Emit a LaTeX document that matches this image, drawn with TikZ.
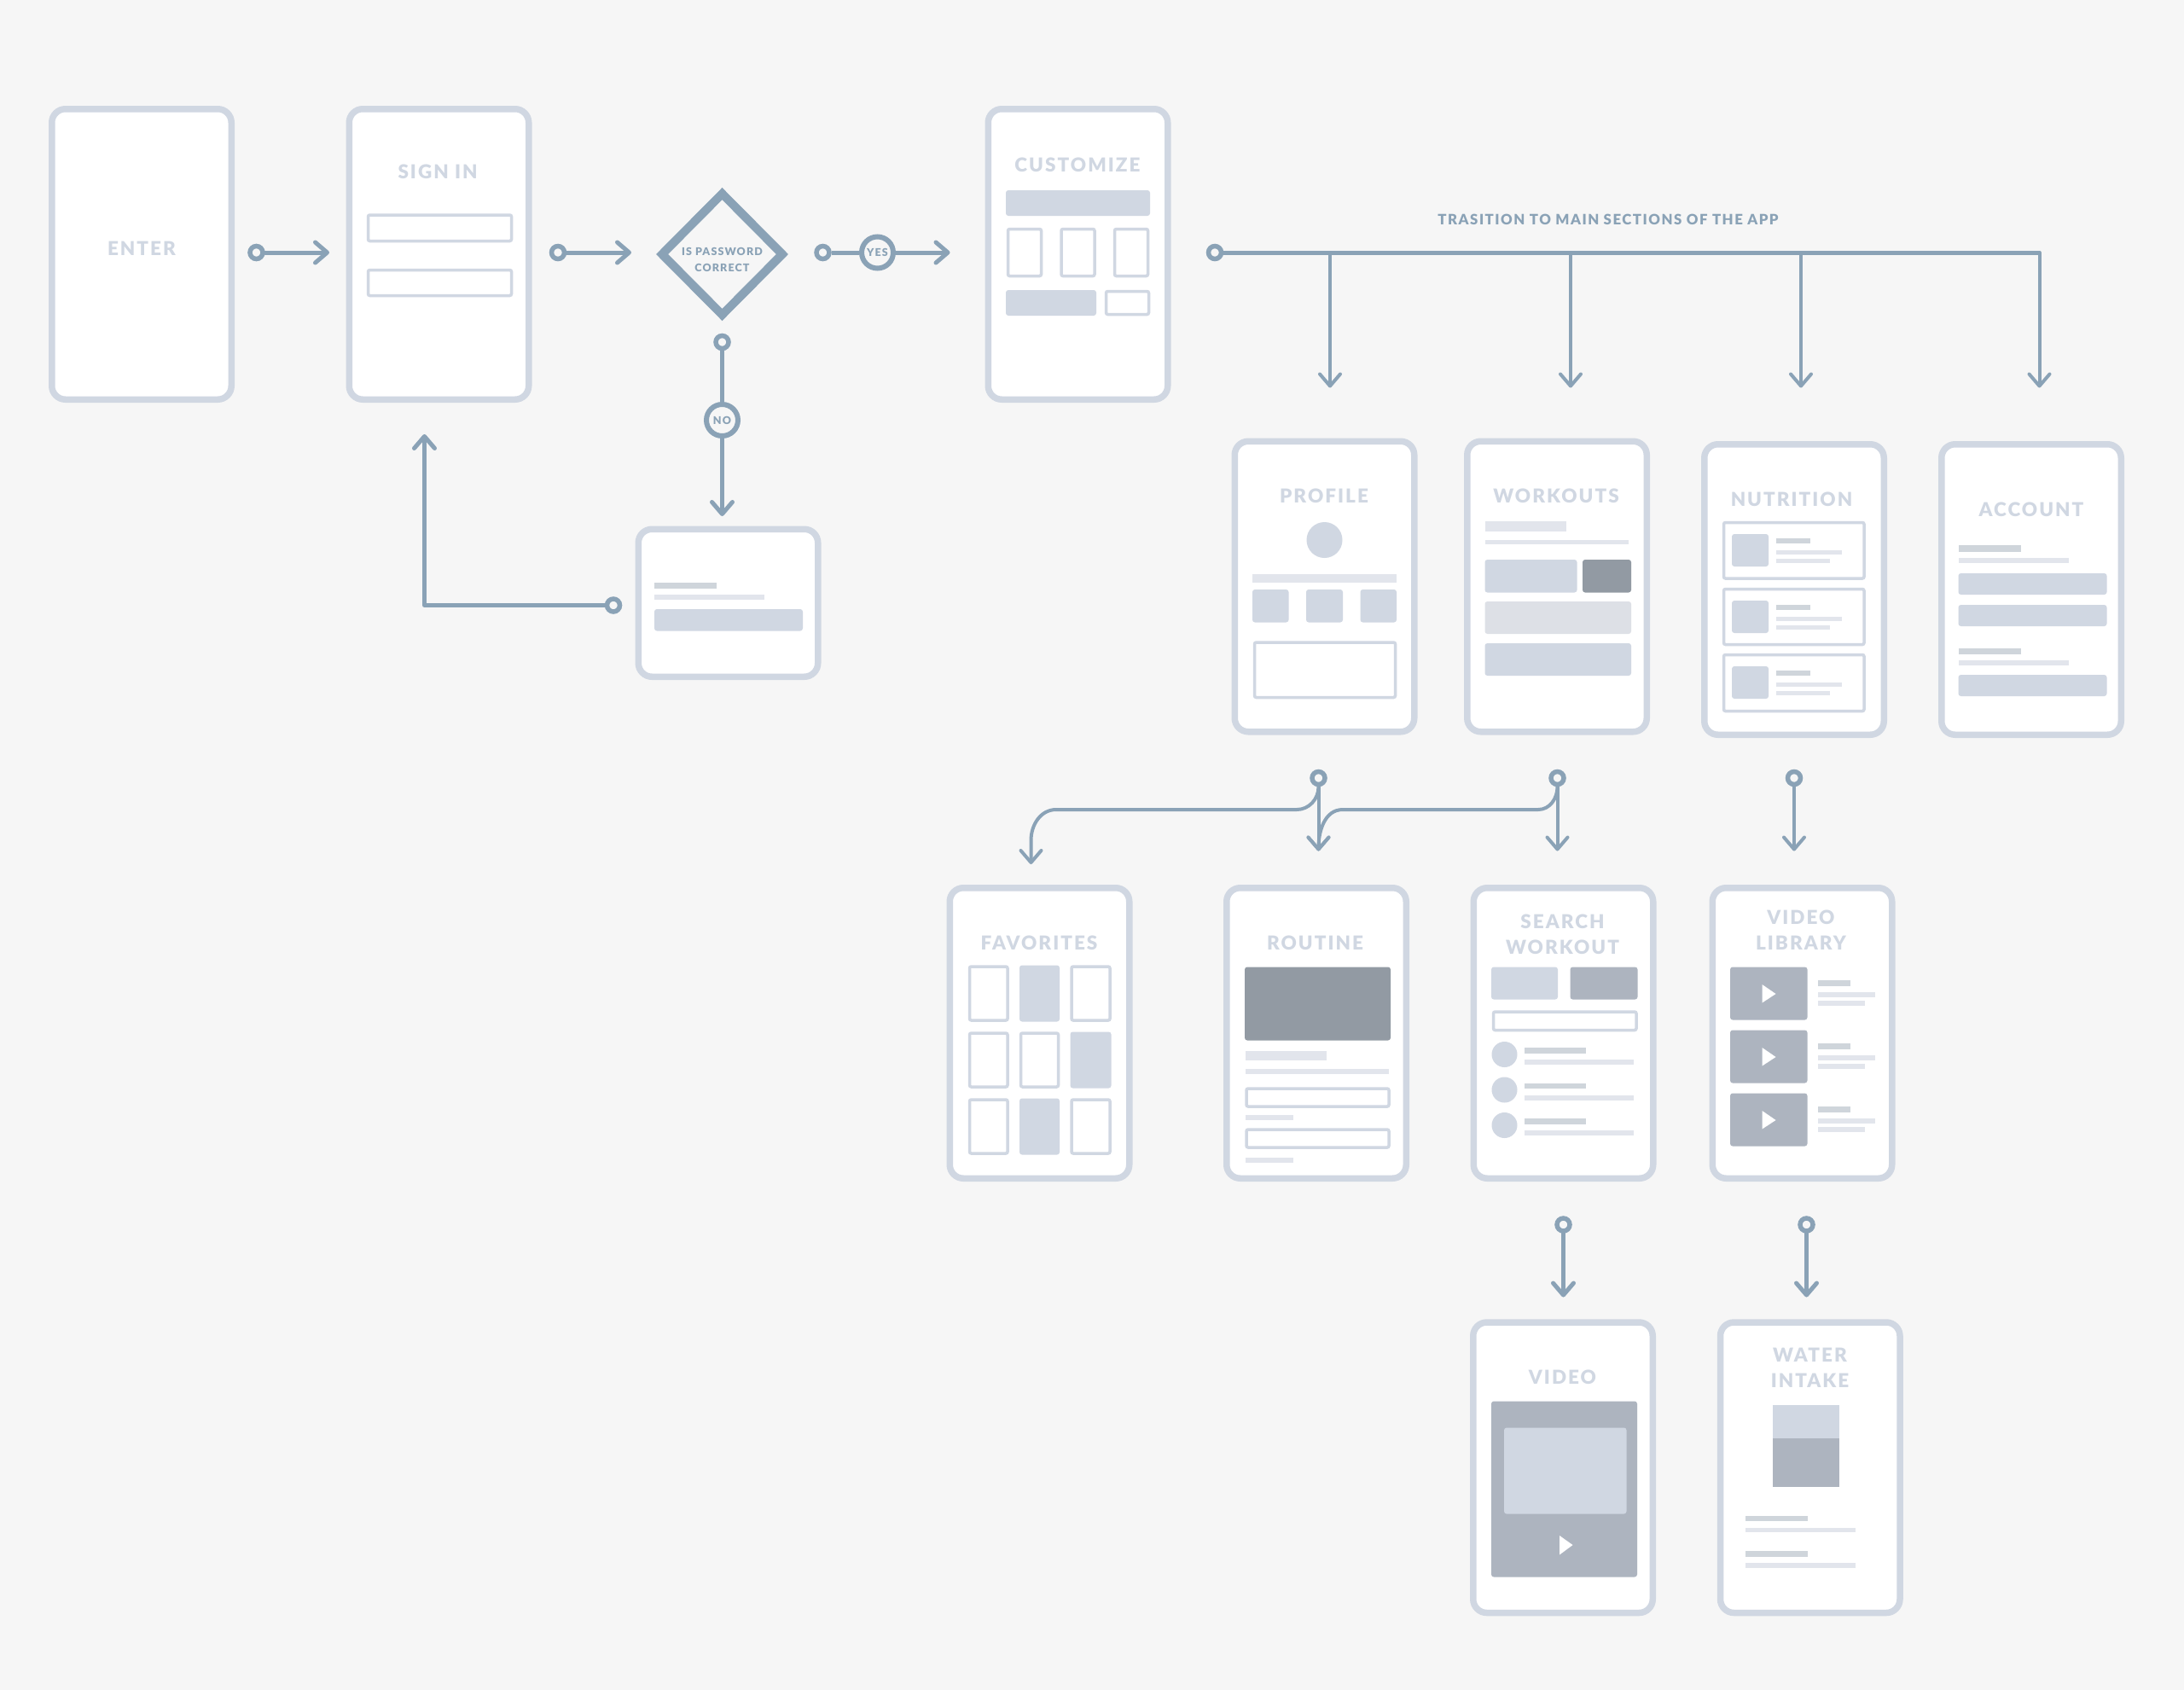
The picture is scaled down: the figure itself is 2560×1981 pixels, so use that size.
\documentclass[tikz,border=0pt]{standalone}
\usepackage{fontspec}
\setmainfont{Lato}[LetterSpace=9, BoldFont={Lato Black}]
\usetikzlibrary{arrows.meta,shapes.geometric}
\definecolor{bgcol}{HTML}{F6F6F6}
\definecolor{framecol}{HTML}{D0D7E2}
\definecolor{flowcol}{HTML}{8AA2B6}
\definecolor{lightcol}{HTML}{E2E5EC}
\definecolor{softcol}{HTML}{DDE0E6}
\definecolor{midcol}{HTML}{ADB4BF}
\definecolor{darkcol}{HTML}{929AA3}
\definecolor{greycol}{HTML}{CFD5DB}
\tikzset{
  screen/.style={draw=framecol, fill=white, line width=7.5pt, rounded corners=16pt, inner sep=0pt, minimum width=210.5pt, minimum height=340.5pt},
  title/.style={text=framecol, inner sep=0pt, align=center, font=\fontsize{22.5}{30}\selectfont\bfseries},
  note/.style={text=flowcol, inner sep=0pt, align=center, font=\fontsize{12.5}{18.5}\selectfont\bfseries},
  dot/.style={circle, draw=flowcol, fill=bgcol, line width=5.5pt, minimum size=15pt, inner sep=0pt},
  tag/.style={circle, draw=flowcol, fill=bgcol, line width=6pt, minimum size=37pt, inner sep=0pt, text=flowcol, font=\fontsize{12.5}{12.5}\selectfont\bfseries},
  flow/.style={draw=flowcol, line width=5pt, line cap=round, line join=round, -{Straight Barb[length=14pt,width=24pt,round]}},
  plain/.style={draw=flowcol, line width=5pt},
  thin/.style={flow, line width=4pt},
  block/.style={fill=framecol, rounded corners=3pt},
  softblock/.style={fill=softcol, rounded corners=3pt},
  midblock/.style={fill=midcol, rounded corners=3pt},
  darkblock/.style={fill=darkcol, rounded corners=3pt},
  bar/.style={fill=greycol},
  line/.style={fill=lightcol},
  slot/.style={draw=framecol, fill=white, line width=3.5pt, rounded corners=2pt},
}
\begin{document}
\begin{tikzpicture}[x=1pt,y=-1pt]
  \fill[bgcol] (0,0) rectangle (2560,1981);
  \useasboundingbox (0,0) rectangle (2560,1981);

  % top row
  \node[screen] (enter) at (166,298) {};
  \node[screen] (signin) at (514.5,298) {};
  \node[screen] (customize) at (1263.5,298) {};
  \node[screen, minimum height=173pt] (retry) at (853.5,706.75) {};
  \node[title] (entertitle) at (166,291) {ENTER};
  \node[title] (signintitle) at (513,201) {SIGN IN};
  \node[title] (customizetitle) at (1263,193) {CUSTOMIZE};

  \draw[slot] (431.5,252) rectangle (599.5,282.5);
  \draw[slot] (431.5,316.5) rectangle (599.5,346.5);

  \fill[block] (1179,223) rectangle (1348,253);
  \draw[slot] (1181.5,268.5) rectangle (1220.5,323.5);
  \draw[slot] (1244,268.5) rectangle (1283,323.5);
  \draw[slot] (1306.5,268.5) rectangle (1345.5,323.5);
  \fill[block] (1179,340) rectangle (1285,370);
  \draw[slot] (1296.5,341.5) rectangle (1346.5,368.5);

  \fill[bar] (767,682.5) rectangle (840,689.5);
  \fill[line] (767,697) rectangle (896,702.5);
  \fill[block] (767,714) rectangle (941,739.5);

  \node[diamond, draw=flowcol, fill=bgcol, line width=10pt, minimum width=145pt, minimum height=146pt, inner sep=0pt, aspect=1] (check) at (846.5,298) {};
  \node[note] (checktext) at (846.5,304.5) {IS PASSWORD\\CORRECT};

  % top row connectors
  \node[dot] (dotenter) at (300.5,296) {};
  \coordinate (tipenter) at (386,296);
  \draw[flow] (dotenter) -- (tipenter);
  \node[dot] (dotsignin) at (654,296) {};
  \coordinate (tipsignin) at (740,296);
  \draw[flow] (dotsignin) -- (tipsignin);
  \node[dot] (dotcheck) at (964.5,296) {};
  \node[tag] (yes) at (1028.5,296) {YES};
  \coordinate (tipyes) at (1113.5,296);
  \draw[plain] (dotcheck) -- (yes);
  \draw[flow] (yes) -- (tipyes);
  \node[dot] (dotno) at (846.5,401) {};
  \node[tag] (no) at (846.5,492.5) {NO};
  \coordinate (tipno) at (846.5,605);
  \draw[plain] (dotno) -- (no);
  \draw[flow] (no) -- (tipno);
  \node[dot] (dotretry) at (719,709.5) {};
  \coordinate (cornerretry) at (497.5,709.5);
  \coordinate (tipretry) at (497.5,509);
  \draw[flow] (dotretry) -- (cornerretry) -- (tipretry);

  % main sections
  \node[note, font=\fontsize{16.8}{16.8}\selectfont\bfseries] (maintext) at (1885,257.5) {TRASITION TO MAIN SECTIONS OF THE APP};
  \node[dot] (dotmain) at (1424,296) {};
  \coordinate (branchprofile) at (1559,296);
  \coordinate (branchworkouts) at (1841,296);
  \coordinate (branchnutrition) at (2111,296);
  \coordinate (branchaccount) at (2390.5,296);
  \coordinate (tipprofile) at (1559,454.5);
  \coordinate (tipworkouts) at (1841,454.5);
  \coordinate (tipnutrition) at (2111,454.5);
  \coordinate (tipaccount) at (2390.5,454.5);
  \draw[plain] (dotmain) -- (branchaccount);
  \draw[thin] (branchprofile) -- (tipprofile);
  \draw[thin] (branchworkouts) -- (tipworkouts);
  \draw[thin] (branchnutrition) -- (tipnutrition);
  \draw[thin] (branchaccount) -- (tipaccount);

  \node[screen] (profile) at (1552.5,687.5) {};
  \node[screen] (workouts) at (1825,687.5) {};
  \node[screen] (nutrition) at (2103,691) {};
  \node[screen] (account) at (2381,691) {};
  \node[title] (profiletitle) at (1552,581.5) {PROFILE};
  \node[title] (workoutstitle) at (1824,581.5) {WORKOUTS};
  \node[title] (nutritiontitle) at (2100,585) {NUTRITION};
  \node[title] (accounttitle) at (2381,597) {ACCOUNT};

  % profile
  \fill[block] (1552.5,633) circle (21);
  \fill[line] (1468,673) rectangle (1637,683);
  \fill[block] (1468,691) rectangle (1510.5,729.5);
  \fill[block] (1531,691) rectangle (1574,729.5);
  \fill[block] (1594.5,691) rectangle (1637,729.5);
  \draw[slot] (1470.5,753) rectangle (1635.5,817.5);

  % workouts
  \fill[line] (1740.5,611) rectangle (1835.5,622.5);
  \fill[line] (1740.5,632.5) rectangle (1909,638);
  \fill[block] (1740.5,656) rectangle (1848.5,694.5);
  \fill[darkblock] (1855,656) rectangle (1912,694.5);
  \fill[softblock] (1740.5,705) rectangle (1912,743);
  \fill[block] (1740.5,754) rectangle (1912,792);

  % nutrition
  \draw[slot] (2020.5,612.5) rectangle (2185,678);
  \fill[block] (2030,626) rectangle (2073,664);
  \fill[bar] (2082,631) rectangle (2121.5,637);
  \fill[line] (2082,644.5) rectangle (2158.5,650);
  \fill[line] (2082,654.5) rectangle (2144.5,660);
  \draw[slot] (2020.5,690.5) rectangle (2185,755.5);
  \fill[block] (2030,704) rectangle (2073,742);
  \fill[bar] (2082,709) rectangle (2121.5,715);
  \fill[line] (2082,722.5) rectangle (2158.5,728);
  \fill[line] (2082,732.5) rectangle (2144.5,738);
  \draw[slot] (2020.5,767.5) rectangle (2185,833.5);
  \fill[block] (2030,781) rectangle (2073,819);
  \fill[bar] (2082,786) rectangle (2121.5,792);
  \fill[line] (2082,799.5) rectangle (2158.5,805);
  \fill[line] (2082,809.5) rectangle (2144.5,815);

  % account
  \fill[bar] (2295.5,639) rectangle (2369,646.5);
  \fill[line] (2295.5,654) rectangle (2425,660);
  \fill[block] (2295.5,672) rectangle (2469.5,697);
  \fill[block] (2295.5,709) rectangle (2469.5,734);
  \fill[bar] (2295.5,760) rectangle (2369,766.5);
  \fill[line] (2295.5,773.5) rectangle (2425,779.5);
  \fill[block] (2295.5,791) rectangle (2469.5,816);

  % second level connectors
  \node[dot] (dotprofile) at (1545.5,912) {};
  \node[dot] (dotworkouts) at (1825.5,912) {};
  \node[dot] (dotnutrition) at (2103,912) {};
  \coordinate (tiproutine) at (1545.5,997.5);
  \coordinate (tipsearch) at (1825.5,997.5);
  \coordinate (tiplibrary) at (2103,997.5);
  \coordinate (tipfavorites) at (1208.5,1013);
  \coordinate (bendfavA) at (1520,949);
  \coordinate (bendfavB) at (1238,949);
  \coordinate (bendfavC) at (1208.5,985);
  \coordinate (bendsearchA) at (1803,949);
  \coordinate (bendsearchB) at (1574,949);
  \draw[thin] (dotprofile) -- (tiproutine);
  \draw[thin] (dotworkouts) -- (tipsearch);
  \draw[thin] (dotnutrition) -- (tiplibrary);
  \draw[thin] (dotprofile.south) to[out=-90,in=0] (bendfavA) -- (bendfavB) to[out=180,in=90] (bendfavC) -- (tipfavorites);
  \draw[thin] (dotworkouts.south) to[out=-90,in=0] (bendsearchA) -- (bendsearchB) to[out=180,in=90] (tiproutine);

  \node[screen] (favorites) at (1218.5,1211) {};
  \node[screen] (routine) at (1543,1211) {};
  \node[screen] (search) at (1832.5,1211) {};
  \node[screen] (library) at (2112.5,1211) {};
  \node[title] (favoritestitle) at (1218,1105.5) {FAVORITES};
  \node[title] (routinetitle) at (1541.5,1105.5) {ROUTINE};
  \node[title] (searchtitle) at (1831.5,1095) {SEARCH\\WORKOUT};
  \node[title] (librarytitle) at (2111,1090) {VIDEO\\LIBRARY};

  % favorites
  \draw[slot] (1136.5,1133) rectangle (1181,1196);
  \fill[block] (1195,1131.5) rectangle (1242,1197.5);
  \draw[slot] (1256,1133) rectangle (1301,1196);
  \draw[slot] (1136.5,1211) rectangle (1181,1274);
  \draw[slot] (1196.5,1211) rectangle (1240.5,1274);
  \fill[block] (1254.5,1209.5) rectangle (1302.5,1275.5);
  \draw[slot] (1136.5,1289) rectangle (1181,1352);
  \fill[block] (1195,1287.5) rectangle (1242,1353.5);
  \draw[slot] (1256,1289) rectangle (1301,1352);

  % routine
  \fill[darkblock] (1459,1133.5) rectangle (1630,1219.5);
  \fill[line] (1459.5,1231.5) rectangle (1555,1242.5);
  \fill[line] (1459.5,1252.5) rectangle (1628,1258.5);
  \draw[slot] (1461,1276) rectangle (1628,1297);
  \fill[line] (1459.5,1307) rectangle (1515.5,1312.5);
  \draw[slot] (1461,1324) rectangle (1628,1345);
  \fill[line] (1459.5,1357) rectangle (1515.5,1362.5);

  % search workout
  \fill[block] (1748,1133.5) rectangle (1826,1171.5);
  \fill[midblock] (1840.5,1133.5) rectangle (1919.5,1171.5);
  \draw[slot] (1750.5,1186) rectangle (1918,1207.5);
  \fill[block] (1763.5,1236) circle (15);
  \fill[bar] (1786.5,1228) rectangle (1859,1234.5);
  \fill[line] (1786.5,1242) rectangle (1915,1248);
  \fill[block] (1763.5,1277.5) circle (15);
  \fill[bar] (1786.5,1269.5) rectangle (1859,1276);
  \fill[line] (1786.5,1283.5) rectangle (1915,1289.5);
  \fill[block] (1763.5,1319) circle (15);
  \fill[bar] (1786.5,1311) rectangle (1859,1317.5);
  \fill[line] (1786.5,1325) rectangle (1915,1331);

  % video library
  \fill[midblock] (2028,1133.5) rectangle (2118.5,1195.5);
  \fill[white] (2065.5,1154) -- (2081.5,1165) -- (2065.5,1175.5) -- cycle;
  \fill[bar] (2131,1148.5) rectangle (2169,1155.5);
  \fill[line] (2131,1162.5) rectangle (2198,1168.5);
  \fill[line] (2131,1173) rectangle (2186,1178.5);
  \fill[midblock] (2028,1207.5) rectangle (2118.5,1269.5);
  \fill[white] (2065.5,1228) -- (2081.5,1239) -- (2065.5,1249.5) -- cycle;
  \fill[bar] (2131,1222.5) rectangle (2169,1229.5);
  \fill[line] (2131,1236.5) rectangle (2198,1242.5);
  \fill[line] (2131,1247) rectangle (2186,1252.5);
  \fill[midblock] (2028,1281.5) rectangle (2118.5,1343.5);
  \fill[white] (2065.5,1302) -- (2081.5,1313) -- (2065.5,1323.5) -- cycle;
  \fill[bar] (2131,1296.5) rectangle (2169,1303.5);
  \fill[line] (2131,1310.5) rectangle (2198,1316.5);
  \fill[line] (2131,1321) rectangle (2186,1326.5);

  % third level
  \node[dot] (dotsearch) at (1832.5,1435.5) {};
  \node[dot] (dotlibrary) at (2117.5,1435.5) {};
  \coordinate (tipvideo) at (1832.5,1520.5);
  \coordinate (tipwater) at (2117.5,1520.5);
  \draw[flow] (dotsearch) -- (tipvideo);
  \draw[flow] (dotlibrary) -- (tipwater);

  \node[screen] (video) at (1832,1720.25) {};
  \node[screen] (water) at (2121.75,1720.25) {};
  \node[title] (videotitle) at (1831.5,1614.5) {VIDEO};
  \node[title] (watertitle) at (2121.5,1603.5) {WATER\\INTAKE};

  % video
  \fill[midblock] (1748,1642.5) rectangle (1919,1848.5);
  \fill[block] (1763,1673.5) rectangle (1906.5,1774.5);
  \fill[white] (1828,1800) -- (1843.5,1811) -- (1828,1822.5) -- cycle;

  % water intake
  \fill[framecol] (2077.5,1647) rectangle (2156,1686);
  \fill[midcol] (2077.5,1686) rectangle (2156,1743);
  \fill[bar] (2046,1776.5) rectangle (2118.5,1783);
  \fill[line] (2046,1790.5) rectangle (2174.5,1796);
  \fill[bar] (2046,1818) rectangle (2118.5,1824.5);
  \fill[line] (2046,1832) rectangle (2174.5,1837.5);
\end{tikzpicture}
\end{document}
